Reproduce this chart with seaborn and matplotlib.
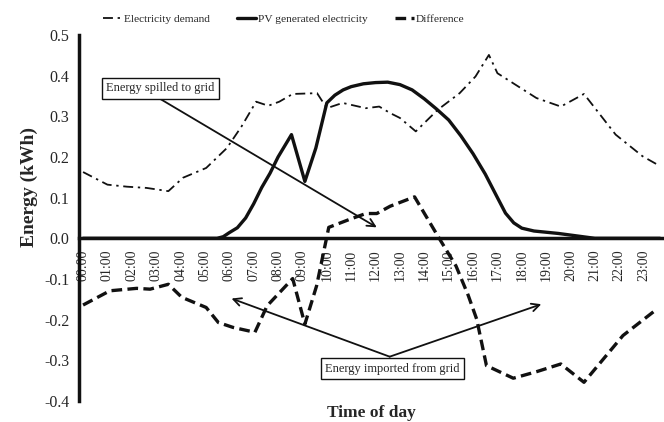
import numpy as np
import seaborn as sns
import matplotlib
matplotlib.use("Agg")
import matplotlib.pyplot as plt
from matplotlib.ticker import FormatStrFormatter

# values (time in hours, energy in kWh)
demand_t = [0, 1.0, 1.8, 2.6, 3.5, 4.1, 5.05, 5.9, 6.5, 7.1, 7.6, 8.05, 8.6, 9.6, 10.0,
            10.65, 11.6, 12.15, 12.6, 13.0, 13.65, 14.55, 15.45, 16.1, 16.65, 17.0,
            18.6, 19.6, 20.55, 21.85, 22.95, 23.6]
demand_kwh = [0.163, 0.132, 0.127, 0.124, 0.116, 0.149, 0.173, 0.222, 0.275, 0.336, 0.326,
              0.336, 0.355, 0.357, 0.320, 0.333, 0.320, 0.324, 0.308, 0.296, 0.263, 0.316,
              0.357, 0.398, 0.451, 0.406, 0.345, 0.324, 0.355, 0.255, 0.202, 0.180]

pv_t = [0, 5.5, 5.75, 6.0, 6.33, 6.67, 7.0, 7.33, 7.67, 8.0, 8.55, 9.1, 9.55, 10.0, 10.33,
        10.67, 11.0, 11.5, 12.0, 12.5, 13.0, 13.5, 14.0, 14.5, 15.0, 15.5, 16.0, 16.5,
        17.0, 17.33, 17.67, 18.0, 18.5, 19.0, 19.5, 20.0, 20.5, 21.0, 23.67]
pv_kwh = [0, 0, 0.004, 0.014, 0.026, 0.050, 0.085, 0.125, 0.160, 0.200, 0.255, 0.140, 0.222,
          0.333, 0.352, 0.365, 0.373, 0.380, 0.383, 0.384, 0.378, 0.365, 0.343, 0.318, 0.291,
          0.252, 0.208, 0.158, 0.100, 0.062, 0.038, 0.025, 0.018, 0.015, 0.012, 0.008, 0.004,
          0.0, 0.0]

diff_t = [0, 1.1, 2.2, 2.75, 3.5, 4.05, 5.05, 5.55, 6.15, 7.05, 7.55, 8.6, 9.1, 9.58, 9.97,
          10.08, 10.95, 11.6, 12.05, 12.6, 13.6, 14.55, 15.3, 15.8, 16.15, 16.55, 17.65,
          18.6, 19.6, 20.55, 22.15, 23.5]
diff_kwh = [-0.164, -0.129, -0.123, -0.125, -0.113, -0.145, -0.170, -0.207, -0.219, -0.231,
            -0.166, -0.099, -0.211, -0.117, -0.005, 0.027, 0.047, 0.061, 0.061, 0.079, 0.102,
            0.006, -0.068, -0.140, -0.199, -0.313, -0.344, -0.328, -0.309, -0.354, -0.239,
            -0.176]

hour_labels = ["%02d:00" % h for h in range(24)]
y_ticks = [-0.4, -0.3, -0.2, -0.1, 0.0, 0.1, 0.2, 0.3, 0.4, 0.5]

sns.set_style("white")
plt.rcParams["font.family"] = "serif"
plt.rcParams["font.serif"] = ["Liberation Serif", "DejaVu Serif"]
plt.rcParams["axes.unicode_minus"] = False

fig, ax = plt.subplots(figsize=(6.64, 4.22), dpi=100)
fig.subplots_adjust(left=79/664, right=1.0, top=1-35/422, bottom=1-401/422)

sns.lineplot(x=demand_t, y=demand_kwh, ax=ax, color="#111111", lw=1.3,
             label="Electricity demand", errorbar=None)
ax.lines[-1].set_dashes([5.5, 2.6, 1.3, 2.6])
sns.lineplot(x=pv_t, y=pv_kwh, ax=ax, color="#111111", lw=2.4,
             label="PV generated electricity", errorbar=None)
sns.lineplot(x=diff_t, y=diff_kwh, ax=ax, color="#111111", lw=2.4,
             label="Difference", errorbar=None)
ax.lines[-1].set_dashes([3.2, 1.6])

ax.set_xlim(-1/6, 24 - 1/6)
ax.set_ylim(-0.4, 0.5)

# axes styling: x axis crosses at zero
for s in ["top", "right"]:
    ax.spines[s].set_visible(False)
ax.spines["bottom"].set_position(("data", 0))
ax.spines["bottom"].set_linewidth(2.5)
ax.spines["left"].set_linewidth(2.5)
ax.spines["bottom"].set_color("#111111")
ax.spines["left"].set_color("#111111")

ax.set_xticks(range(24))
ax.set_xticklabels(hour_labels, rotation=90, fontsize=10)
ax.set_xticks(np.arange(-1/6, 24, 1/3), minor=True)
ax.tick_params(axis="x", which="major", length=0, pad=8)
ax.tick_params(axis="x", which="minor", length=4, width=2.2, direction="out", color="#111111")

ax.set_yticks(y_ticks)
ax.yaxis.set_major_formatter(FormatStrFormatter("%.1f"))
ax.tick_params(axis="y", length=4, width=2, direction="out", labelsize=11.5, pad=3,
               color="#111111")

ax.set_ylabel("Energy (kWh)", fontsize=14, fontweight="bold")
ax.yaxis.set_label_coords(-0.07, 0.585)
ax.set_xlabel("Time of day", fontsize=12.5, fontweight="bold")
ax.xaxis.set_label_coords(0.5, -0.012)

# annotations
box = dict(boxstyle="square,pad=0.35", fc="white", ec="#111111", lw=1)
arrow = dict(arrowstyle="->", lw=1.3, color="#111111", shrinkA=0, shrinkB=0,
             mutation_scale=14)
ax.text(3.16, 0.369, "Energy spilled to grid", ha="center", va="center",
        fontsize=9, bbox=box, zorder=5)
ax.annotate("", xy=(12.05, 0.027), xytext=(3.16, 0.343), arrowprops=arrow, zorder=4)

ax.text(12.69, -0.321, "Energy imported from grid", ha="center", va="center",
        fontsize=9, bbox=box, zorder=5)
ax.annotate("", xy=(6.09, -0.148), xytext=(12.58, -0.291), arrowprops=arrow, zorder=4)
ax.annotate("", xy=(18.8, -0.162), xytext=(12.58, -0.291), arrowprops=arrow, zorder=4)

ax.legend(loc="center", bbox_to_anchor=(0.35, 1.045), ncol=3, frameon=False,
          fontsize=8.2, handlelength=1.7, handletextpad=0.15, columnspacing=2.4)

plt.savefig("out.png", dpi=100)
